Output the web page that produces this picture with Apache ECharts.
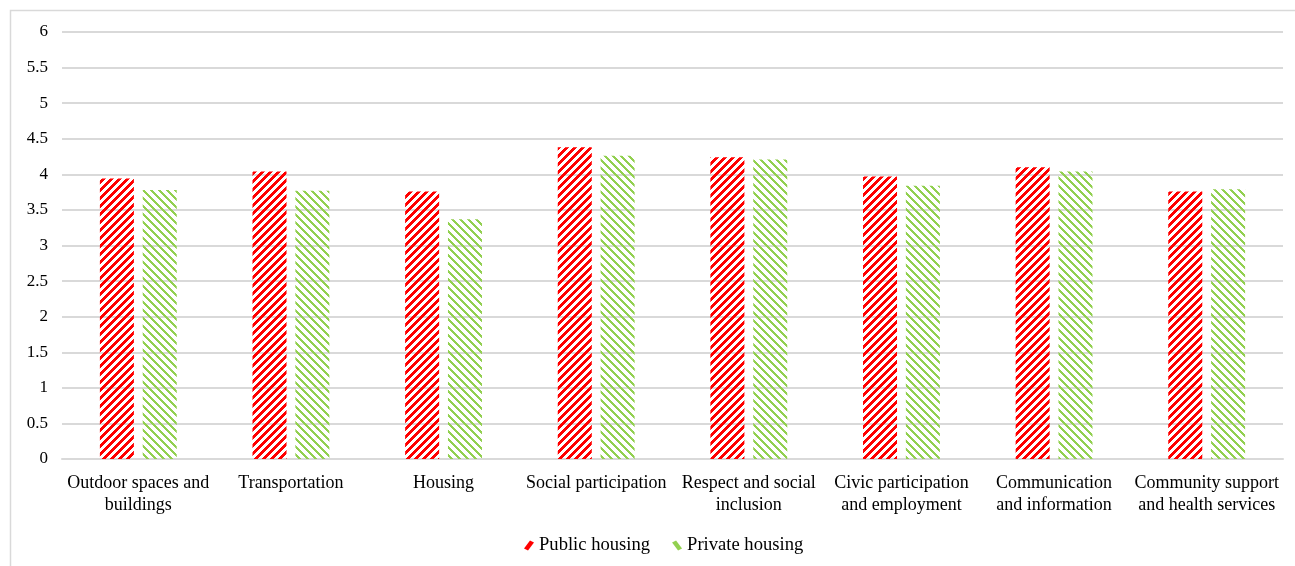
<!DOCTYPE html>
<html>
<head>
<meta charset="utf-8">
<script src="https://cdn.jsdelivr.net/npm/echarts@6/dist/echarts.min.js"></script>
<style>html,body{margin:0;padding:0;background:#fff}#c{width:1295px;height:566px}</style>
</head>
<body>
<div id="c"></div>
<script>
const categories = [
  "Outdoor spaces and\nbuildings",
  "Transportation",
  "Housing",
  "Social participation",
  "Respect and social\ninclusion",
  "Civic participation\nand employment",
  "Communication\nand information",
  "Community support\nand health services"
];
const publicHousing = [3.94, 4.04, 3.76, 4.38, 4.24, 3.97, 4.10, 3.76];
const privateHousing = [3.78, 3.77, 3.37, 4.26, 4.21, 3.84, 4.04, 3.79];
const seriesNames = ["Public housing", "Private housing"];

function stripes(color, dir, w) {
  const c = document.createElement('canvas');
  c.width = 8; c.height = 8;
  const ctx = c.getContext('2d');
  ctx.fillStyle = color;
  for (let x = 0; x < 8; x++) {
    for (let y = 0; y < 8; y++) {
      const v = dir > 0 ? (x + y) % 8 : ((x - y) % 8 + 8) % 8;
      if (v < w) ctx.fillRect(x, y, 1, 1);
    }
  }
  return c;
}
const redPat = { image: stripes('#FF0000', 1, 4), repeat: 'repeat' };
const greenPat = { image: stripes('#92D050', -1, 3), repeat: 'repeat' };

const chart = echarts.init(document.getElementById('c'));
const font = '"Liberation Serif", "Times New Roman", serif';
chart.setOption({
  animation: false,
  backgroundColor: '#fff',
  grid: { left: 62, right: 12, top: 32, bottom: 107 },
  graphic: [
    { type: 'polyline', shape: { points: [[10.5, 566], [10.5, 10.5], [1295, 10.5]] }, style: { stroke: '#d9d9d9', lineWidth: 1.5, fill: null } }
  ],
  legend: {
    bottom: 6,
    left: 519,
    itemWidth: 10, itemHeight: 10, itemGap: 22,
    textStyle: { fontFamily: font, fontSize: 18.6, color: '#000' },
    data: [
      { name: seriesNames[0], icon: 'path://M3,0 L5,1 L2,5 L0,4 Z', itemStyle: { color: '#FF0000' } },
      { name: seriesNames[1], icon: 'path://M0,1 L2,0 L5,4 L3,5 Z', itemStyle: { color: '#92D050' } }
    ]
  },
  xAxis: {
    type: 'category',
    data: categories,
    axisLine: { lineStyle: { color: '#d9d9d9', width: 2 } },
    axisTick: { show: false },
    axisLabel: { fontFamily: font, fontSize: 18, color: '#000', interval: 0, lineHeight: 22, margin: 13 }
  },
  yAxis: {
    type: 'value',
    min: 0, max: 6, interval: 0.5,
    axisLine: { show: false },
    axisTick: { show: false },
    splitLine: { lineStyle: { color: '#d9d9d9', width: 2 } },
    axisLabel: { fontFamily: font, fontSize: 17, color: '#000', margin: 14 }
  },
  series: [
    { name: seriesNames[0], type: 'bar', data: publicHousing, barWidth: 34, barGap: '26%', itemStyle: { color: redPat } },
    { name: seriesNames[1], type: 'bar', data: privateHousing, barWidth: 34, itemStyle: { color: greenPat } }
  ]
});
</script>
</body>
</html>
